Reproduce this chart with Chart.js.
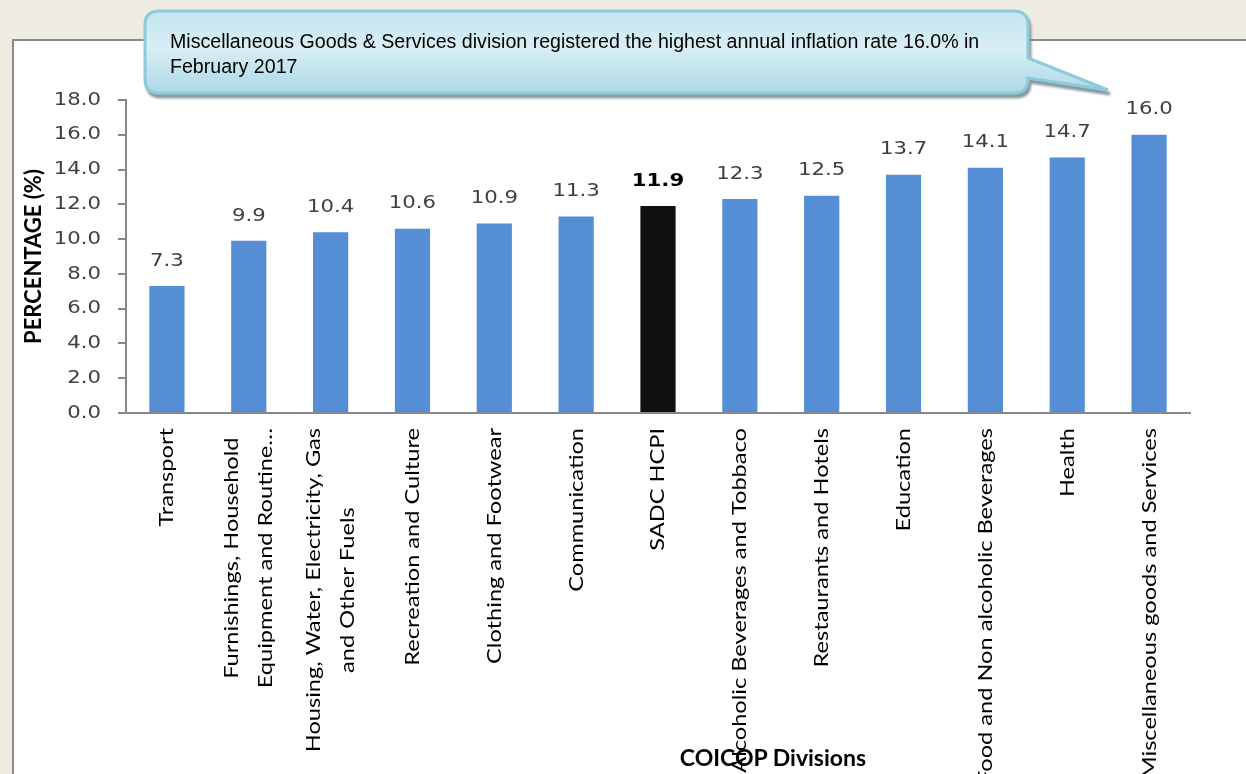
<!DOCTYPE html>
<html>
<head>
<meta charset="utf-8">
<script src="https://cdn.jsdelivr.net/npm/chart.js@4.4.0/dist/chart.umd.min.js"></script>
<style>
  html, body { margin: 0; padding: 0; background: #eeebe0; overflow: hidden; }
  #page { position: relative; width: 1246px; height: 774px; }
  #panel { position: absolute; left: 12px; top: 39px; width: 1300px; height: 800px;
           background: #fff; border-left: 2px solid #8a8a8a; border-top: 2px solid #8a8a8a; }
  #wrap { position: absolute; left: 0; top: 0; width: 1246px; height: 774px; }
  #callout { position: absolute; left: 0; top: 0; }
  #callout-text { position: absolute; left: 170px; top: 29px; width: 850px; height: 49px; overflow: hidden;
                  font: 19.6px "Liberation Sans", Arial, sans-serif; line-height: 25px; color: #000; }
  #xtitle { position: absolute; left: 623px; width: 300px; top: 744px; text-align: center;
            font: bold 23px Lato, sans-serif; line-height: 26px; color: #000; }
</style>
</head>
<body>
<div id="page">
  <div id="panel"></div>
  <div id="wrap"><canvas id="chart"></canvas></div>
  <div id="xtitle">COICOP Divisions</div>
  <svg id="callout" width="1246" height="120">
    <defs>
      <linearGradient id="fillg" x1="0" y1="0" x2="0" y2="1">
        <stop offset="0" stop-color="#c4e6f0"/>
        <stop offset="0.45" stop-color="#d8eef4"/>
        <stop offset="1" stop-color="#acd9e6"/>
      </linearGradient>
      <filter id="sh" x="-5%" y="-20%" width="110%" height="160%">
        <feDropShadow dx="2" dy="4" stdDeviation="1.2" flood-color="#7d8f95" flood-opacity="0.9"/>
      </filter>
    </defs>
    <path d="M159,11 H1014 Q1028,11 1028,25 V58 L1108,90 L1028,78 V79 Q1028,93 1014,93 H159 Q145,93 145,79 V25 Q145,11 159,11 Z"
          fill="url(#fillg)" stroke="#8ccbdc" stroke-width="3" filter="url(#sh)"/>
  </svg>
  <div id="callout-text">Miscellaneous Goods &amp; Services division registered the highest annual inflation rate 16.0% in<br>February 2017</div>
</div>

<script>
const categories = [
  "Transport",
  ["Furnishings, Household", "Equipment and Routine…"],
  ["Housing, Water, Electricity, Gas", "and Other Fuels"],
  "Recreation and Culture",
  "Clothing and Footwear",
  "Communication",
  "SADC HCPI",
  "Alcoholic Beverages and Tobbaco",
  "Restaurants and Hotels",
  "Education",
  "Food and Non alcoholic Beverages",
  "Health",
  "Miscellaneous goods and Services"
];
const values = [7.3, 9.9, 10.4, 10.6, 10.9, 11.3, 11.9, 12.3, 12.5, 13.7, 14.1, 14.7, 16.0];
const highlight = "SADC HCPI";

const barColors = categories.map(c => c === highlight ? "#111111" : "#558ed5");

// the source font is wider than anything installed, so stretch along the text
const STRETCH = 1.18;

// value labels above each bar
const barLabels = {
  id: "barLabels",
  afterDatasetsDraw(chart) {
    const ctx = chart.ctx;
    const meta = chart.getDatasetMeta(0);
    ctx.save();
    ctx.textAlign = "center";
    ctx.textBaseline = "middle";
    meta.data.forEach((bar, i) => {
      const hi = categories[i] === highlight;
      ctx.font = (hi ? "bold " : "") + "18px 'DejaVu Sans'";
      ctx.fillStyle = hi ? "#000" : "#404040";
      ctx.save();
      ctx.translate(bar.x, bar.y - 25);
      ctx.scale(STRETCH, 1);
      ctx.fillText(values[i].toFixed(1), 0, 0);
      ctx.restore();
    });
    ctx.restore();
  }
};

// y tick labels + rotated category labels (lines centred on the tick)
const axisLabels = {
  id: "axisLabels",
  afterDraw(chart) {
    const ctx = chart.ctx;
    const ys = chart.scales.y;
    ctx.save();
    ctx.font = "18px 'DejaVu Sans'";
    ctx.fillStyle = "#404040";
    ctx.textAlign = "right";
    ctx.textBaseline = "middle";
    ys.ticks.forEach(t => {
      ctx.save();
      ctx.translate(ys.right - 8 - 17, ys.getPixelForValue(t.value));
      ctx.scale(STRETCH, 1);
      ctx.fillText(t.value.toFixed(1), 0, 0);
      ctx.restore();
    });

    const xs = chart.scales.x;
    ctx.font = "20px Lato";
    ctx.fillStyle = "#000";
    ctx.textAlign = "center";
    categories.forEach((c, i) => {
      const lines = Array.isArray(c) ? c : [c];
      const w = Math.max(...lines.map(l => ctx.measureText(l).width)) * STRETCH;
      ctx.save();
      ctx.translate(xs.getPixelForValue(i), xs.top + 15);
      ctx.rotate(-Math.PI / 2);
      ctx.translate(-w / 2, 0);
      ctx.scale(STRETCH, 1);
      lines.forEach((l, j) => ctx.fillText(l, 0, (j - (lines.length - 1) / 2) * 34));
      ctx.restore();
    });
    ctx.restore();
  }
};

const ctx = document.getElementById("chart").getContext("2d");
const myChart = new Chart(ctx, {
  type: "bar",
  data: {
    labels: categories,
    datasets: [{
      data: values,
      backgroundColor: barColors,
      barPercentage: 0.43,
      categoryPercentage: 1.0
    }]
  },
  options: {
    responsive: true,
    maintainAspectRatio: false,
    animation: false,
    layout: { padding: { left: 13, top: 100, right: 56, bottom: 0 } },
    plugins: { legend: { display: false }, tooltip: { enabled: false } },
    scales: {
      x: {
        ticks: { display: false },
        grid: { display: false },
        border: { color: "#888", width: 2 },
        afterFit: (s) => { s.height = 361; }
      },
      y: {
        min: 0,
        max: 18,
        ticks: { stepSize: 2, display: false },
        grid: { drawOnChartArea: false, drawTicks: true, tickLength: 8, color: "#888", lineWidth: 2 },
        border: { color: "#888", width: 2 },
        title: {
          display: true,
          text: "PERCENTAGE (%)",
          color: "#000",
          font: { family: "Lato", size: 22, weight: "bold" },
          padding: { top: 8, bottom: 0 }
        },
        afterFit: (s) => { s.width = 113; }
      }
    }
  },
  plugins: [barLabels, axisLabels]
});
</script>
</body>
</html>
